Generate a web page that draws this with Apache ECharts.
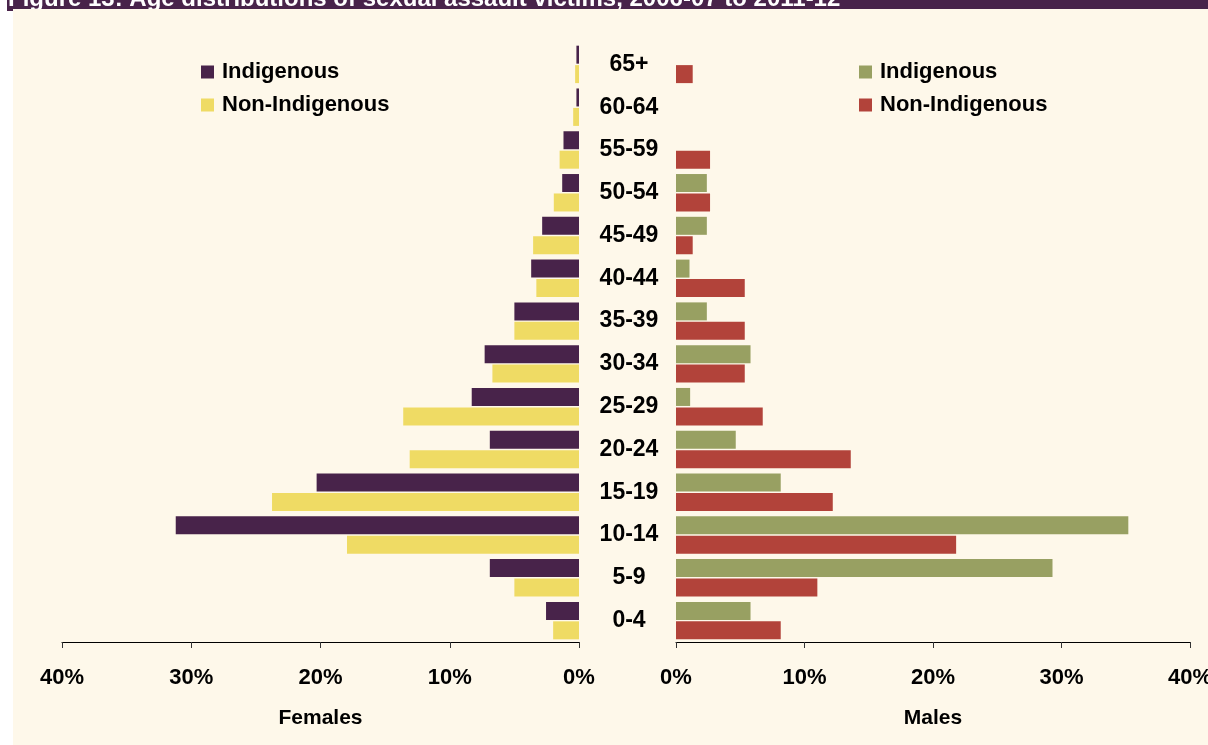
<!DOCTYPE html>
<html>
<head>
<meta charset="utf-8">
<script src="https://cdn.jsdelivr.net/npm/echarts@6/dist/echarts.min.js"></script>
<style>
	html, body { margin: 0; padding: 0; background: #fff; }
	#chart { width: 1208px; height: 745px; }
</style>
</head>
<body>
<div id="chart"></div>
<script>
const ageGroups = ['0-4', '5-9', '10-14', '15-19', '20-24', '25-29', '30-34', '35-39', '40-44', '45-49', '50-54', '55-59', '60-64', '65+'];
const femaleIndigenous = [2.55, 6.9, 31.2, 20.3, 6.9, 8.3, 7.3, 5.0, 3.7, 2.85, 1.3, 1.2, 0.2, 0.2];
const femaleNonIndigenous = [2.0, 5.0, 17.95, 23.75, 13.1, 13.6, 6.7, 5.0, 3.3, 3.55, 1.95, 1.5, 0.45, 0.3];
const maleIndigenous = [5.8, 29.3, 35.2, 8.15, 4.65, 1.1, 5.8, 2.4, 1.05, 2.4, 2.4, 0, 0, 0];
const maleNonIndigenous = [8.15, 11.0, 21.8, 12.2, 13.6, 6.75, 5.35, 5.35, 5.35, 1.3, 2.65, 2.65, 0, 1.3];
const titleText = 'Figure 13: Age distributions of sexual assault victims, 2006-07 to 2011-12';

const
	font = '"Liberation Sans", Arial, Helvetica, sans-serif',
	colors = {
		femInd: '#48234a',
		femNon: '#efdb64',
		maleInd: '#98a062',
		maleNon: '#b2433a'
	},
	boldText = size => ({ fontFamily: font, fontWeight: 'bold', fontSize: size, color: '#000' }),
	valueAxis = (gridIndex, inverse, name) => ({
		type: 'value',
		gridIndex,
		inverse,
		min: 0,
		max: 40,
		interval: 10,
		name,
		nameLocation: 'middle',
		nameGap: 66,
		nameTextStyle: boldText(21),
		axisLine: { show: true, lineStyle: { color: '#000', width: 1 } },
		axisTick: { show: true, length: 6, lineStyle: { color: '#333' } },
		axisLabel: { formatter: '{value}%', margin: 25, ...boldText(22) },
		splitLine: { show: false }
	}),
	categoryAxis = (gridIndex, showLabels) => ({
		type: 'category',
		gridIndex,
		data: ageGroups,
		position: 'right',
		axisLine: { show: false },
		axisTick: { show: false },
		axisLabel: { show: showLabels, align: 'center', margin: 50, ...boldText(23) }
	}),
	barSeries = (name, axisIndex, data, color) => ({
		type: 'bar',
		name,
		xAxisIndex: axisIndex,
		yAxisIndex: axisIndex,
		data,
		barWidth: 18,
		barGap: '8%',
		itemStyle: { color },
		emphasis: { disabled: true }
	}),
	legend = (left, indColor, nonColor) => ({
		orient: 'vertical',
		left,
		top: 56,
		itemWidth: 13,
		itemHeight: 13,
		itemGap: 11,
		icon: 'rect',
		selectedMode: false,
		textStyle: { ...boldText(22), padding: [0, 0, 0, 3] },
		data: [
			{ name: 'Indigenous', itemStyle: { color: indColor } },
			{ name: 'Non-Indigenous', itemStyle: { color: nonColor } }
		]
	});

const chart = echarts.init(document.getElementById('chart'));

chart.setOption({
	animation: false,
	backgroundColor: '#ffffff',
	graphic: [
		{ type: 'rect', z: -10, shape: { x: 7, y: 0, width: 1201, height: 9 }, style: { fill: '#48234a' } },
		{ type: 'rect', z: -10, shape: { x: 7, y: 9, width: 6, height: 2 }, style: { fill: '#48234a' } },
		{
			type: 'text', z: -9, x: 8, y: 11,
			style: { text: titleText, fill: '#fff', font: 'bold 24px ' + font, verticalAlign: 'bottom' }
		},
		{ type: 'rect', z: -8, shape: { x: 13, y: 9, width: 1195, height: 736 }, style: { fill: '#fef8ea' } }
	],
	legend: [
		legend(196, colors.femInd, colors.femNon),
		legend(854, colors.maleInd, colors.maleNon)
	],
	grid: [
		{ left: 62, right: 629, top: 43, bottom: 103, outerBoundsMode: 'none' },
		{ left: 676, right: 18, top: 43, bottom: 103, outerBoundsMode: 'none' }
	],
	xAxis: [
		valueAxis(0, true, 'Females'),
		valueAxis(1, false, 'Males')
	],
	yAxis: [
		categoryAxis(0, true),
		categoryAxis(1, false)
	],
	series: [
		barSeries('Indigenous', 0, femaleIndigenous, colors.femInd),
		barSeries('Non-Indigenous', 0, femaleNonIndigenous, colors.femNon),
		barSeries('Indigenous', 1, maleIndigenous, colors.maleInd),
		barSeries('Non-Indigenous', 1, maleNonIndigenous, colors.maleNon)
	]
});
</script>
</body>
</html>
